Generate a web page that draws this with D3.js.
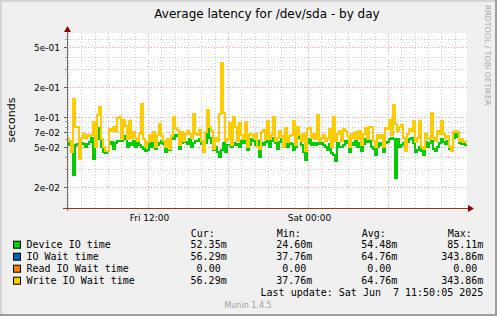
<!DOCTYPE html>
<html><head><meta charset="utf-8">
<script src="https://cdn.jsdelivr.net/npm/d3@7"></script>
<style>html,body{margin:0;padding:0;background:#f0f0f0;} svg{display:block}</style>
</head><body><svg id="c" width="497" height="316"></svg>
<script>
const chartTitle = "Average latency for /dev/sda - by day";
const yAxisTitle = "seconds";
const yLabelValues = [0.02, 0.05, 0.07, 0.1, 0.2, 0.5];
const yLabelText = ["2e-02", "5e-02", "7e-02", "1e-01", "2e-01", "5e-01"];
const xLabelText = ["Fri 12:00", "Sat 00:00"];
const seriesNames = ["Device IO time", "IO Wait time", "Read IO Wait time", "Write IO Wait time"];
const seriesColors = ["#00cc00", "#0066b3", "#ff8000", "#ffcc00"];
const statHeaders = ["Cur:", "Min:", "Avg:", "Max:"];
const statCur = ["52.35m", "56.29m", "0.00", "56.29m"];
const statMin = ["24.60m", "37.76m", "0.00", "37.76m"];
const statAvg = ["54.48m", "64.76m", "0.00", "64.76m"];
const statMax = ["85.11m", "343.86m", "0.00", "343.86m"];
const lastUpdate = "Last update: Sat Jun  7 11:50:05 2025";
const footer = "Munin 1.4.5";
const sideText = "RRDTOOL / TOBI OETIKER";
const timeStart = "2025-06-06T05:55:30Z";
const timeEnd = "2025-06-07T11:55:30Z";

const deviceIO = [
.055,.052,.052,.026,.052,.053,.055,.055,.053,.050,
.053,.056,.062,.038,.058,.078,.060,.050,.045,.044,
.046,.053,.056,.048,.055,.058,.058,.058,.060,.065,
.050,.055,.052,.058,.050,.060,.052,.050,.048,.046,
.047,.055,.050,.060,.048,.052,.055,.058,.054,.045,
.053,.047,.062,.060,.066,.064,.048,.055,.056,.056,
.053,.060,.050,.055,.058,.057,.060,.054,.052,.055,
.0851,.062,.055,.047,.050,.045,.040,.047,.055,.045,
.052,.052,.050,.055,.052,.053,.050,.057,.055,.060,
.047,.052,.060,.058,.052,.058,.040,.055,.052,.056,
.062,.050,.058,.062,.055,.048,.056,.060,.052,.055,
.050,.055,.054,.047,.050,.072,.062,.052,.045,.037,
.055,.060,.052,.055,.052,.055,.053,.055,.052,.050,
.047,.054,.044,.042,.036,.055,.050,.050,.052,.058,
.055,.045,.055,.052,.058,.050,.055,.046,.054,.060,
.056,.058,.050,.048,.042,.050,.055,.052,.045,.055,
.056,.060,.062,.060,.0246,.060,.050,.052,.055,.046,
.056,.060,.062,.055,.045,.047,.050,.046,.042,.056,
.050,.055,.058,.048,.046,.050,.055,.060,.056,.054,
.058,.048,.046,.062,.068,.063,.055,.054,.054,.05235];

const writeIOWait = [
.062,.058,.045,.150,.080,.080,.0378,.062,.068,.062,
.066,.064,.066,.088,.050,.105,.127,.060,.050,.046,
.046,.075,.072,.080,.072,.098,.100,.060,.093,.082,
.060,.090,.062,.070,.062,.058,.068,.136,.060,.050,
.056,.066,.058,.070,.050,.066,.085,.064,.058,.050,
.060,.048,.065,.100,.078,.074,.052,.070,.058,.068,
.072,.068,.062,.107,.068,.066,.074,.058,.045,.070,
.116,.080,.072,.048,.062,.058,.108,.3439,.110,.058,
.060,.087,.052,.100,.080,.058,.086,.066,.060,.089,
.050,.068,.066,.062,.068,.050,.048,.070,.074,.060,
.091,.060,.066,.100,.058,.062,.072,.064,.050,.078,
.056,.064,.066,.092,.052,.080,.066,.058,.068,.046,
.076,.078,.062,.068,.060,.104,.058,.062,.066,.058,
.062,.076,.050,.100,.058,.068,.072,.058,.075,.072,
.064,.050,.068,.062,.070,.060,.072,.052,.068,.078,
.060,.080,.080,.058,.050,.066,.062,.066,.050,.078,
.076,.094,.066,.132,.085,.072,.080,.083,.062,.046,
.068,.076,.072,.092,.056,.062,.092,.050,.048,.068,
.062,.060,.110,.062,.058,.072,.068,.090,.068,.062,
.064,.050,.046,.070,.072,.070,.058,.060,.056,.05629];

// IO Wait equals Write IO Wait (reads are all zero)
const ioWait = writeIOWait;
const readIOWait = [
0,0,0,0,0,0,0,0,0,0,0,0,0,0,0,0,0,0,0,0,0,0,0,0,0,0,0,0,0,0,0,0,0,0,0,0,0,0,0,0,
0,0,0,0,0,0,0,0,0,0,0,0,0,0,0,0,0,0,0,0,0,0,0,0,0,0,0,0,0,0,0,0,0,0,0,0,0,0,0,0,
0,0,0,0,0,0,0,0,0,0,0,0,0,0,0,0,0,0,0,0,0,0,0,0,0,0,0,0,0,0,0,0,0,0,0,0,0,0,0,0,
0,0,0,0,0,0,0,0,0,0,0,0,0,0,0,0,0,0,0,0,0,0,0,0,0,0,0,0,0,0,0,0,0,0,0,0,0,0,0,0,
0,0,0,0,0,0,0,0,0,0,0,0,0,0,0,0,0,0,0,0,0,0,0,0,0,0,0,0,0,0,0,0,0,0,0,0,0,0,0,0];

const seriesData = [deviceIO, ioWait, readIOWait, writeIOWait];

const W = 497, H = 316;
const L = 67, R = 467, T = 33, B = 208;
const svg = d3.select("#c");

svg.append("rect").attr("width", W).attr("height", H).attr("fill", "#f0f0f0");
// 3D border
svg.append("rect").attr("x", 0).attr("y", 0).attr("width", W).attr("height", 2).attr("fill", "#d4d4d4");
svg.append("rect").attr("x", 0).attr("y", 0).attr("width", 2).attr("height", H).attr("fill", "#d4d4d4");
svg.append("rect").attr("x", 0).attr("y", H - 2).attr("width", W).attr("height", 2).attr("fill", "#9e9e9e");
svg.append("rect").attr("x", W - 2).attr("y", 0).attr("width", 2).attr("height", H).attr("fill", "#9e9e9e");

// plot background
svg.append("rect").attr("x", L).attr("y", T).attr("width", R - L).attr("height", B - T).attr("fill", "#ffffff");

const t0 = new Date(timeStart), t1 = new Date(timeEnd);
const x = d3.scaleUtc().domain([t0, t1]).range([L, R]);
const y = d3.scaleLog().domain([0.05, 0.5]).range([147, 47]);
const vMin = y.invert(B), vMax = y.invert(T);

const grid = svg.append("g");
// vertical grid
x.ticks(d3.utcHour.every(1)).forEach(t => {
  const px = Math.round(x(t)) + 0.5;
  if (px <= L + 1 || px >= R) return;
  const major = t.getUTCHours() % 6 === 0;
  grid.append("line").attr("x1", px).attr("x2", px).attr("y1", T).attr("y2", B)
    .attr("stroke", major ? "#f0a0a0" : "#cfcfcf").attr("stroke-width", 1)
    .attr("stroke-dasharray", "1,2");
});
// horizontal grid
const majorSet = new Set(yLabelValues.map(v => v.toPrecision(3)));
for (let e = -3; e <= 1; e++) {
  for (let m = 1; m <= 9; m++) {
    const v = m * Math.pow(10, e);
    if (v < vMin || v > vMax) continue;
    const py = Math.round(y(v)) + 0.5;
    const major = majorSet.has(v.toPrecision(3));
    grid.append("line").attr("x1", L).attr("x2", R).attr("y1", py).attr("y2", py)
      .attr("stroke", major ? "#f0a0a0" : "#cfcfcf").attr("stroke-width", 1)
      .attr("stroke-dasharray", "1,2");
    grid.append("line").attr("x1", L - (major ? 3 : 2)).attr("x2", L).attr("y1", py).attr("y2", py)
      .attr("stroke", major ? "#606060" : "#a0a0a0");
  }
}

// y labels
yLabelValues.forEach((v, i) => {
  svg.append("text").attr("x", 60).attr("y", Math.round(y(v)) + 3.6)
    .attr("text-anchor", "end").attr("font-family", "DejaVu Sans").attr("font-size", 9)
    .attr("fill", "#000").text(yLabelText[i]);
});
// x labels
x.ticks(d3.utcHour.every(12)).forEach((t, i) => {
  svg.append("text").attr("x", Math.round(x(t)) + 1.5).attr("y", 220.8)
    .attr("text-anchor", "middle").attr("font-family", "DejaVu Sans").attr("font-size", 9)
    .attr("fill", "#000").text(xLabelText[i] || d3.utcFormat("%a %H:%M")(t));
});

// series
const stepMs = (t1 - t0) / deviceIO.length;
const clip = svg.append("clipPath").attr("id", "pc");
clip.append("rect").attr("x", L + 1).attr("y", T).attr("width", R - L - 1).attr("height", B - T);
const lines = svg.append("g").attr("clip-path", "url(#pc)");
seriesData.forEach((arr, k) => {
  const pts = arr.map((v, i) => ({ t: new Date(t0.getTime() + i * stepMs), v }));
  pts.push({ t: t1, v: arr[arr.length - 1] });
  const line = d3.line().defined(d => d.v > 0).curve(d3.curveStepAfter)
    .x(d => x(d.t)).y(d => y(d.v));
  lines.append("path").attr("d", line(pts)).attr("fill", "none")
    .attr("stroke", seriesColors[k]).attr("stroke-width", 2)
    .attr("shape-rendering", "crispEdges");
});

// axes
svg.append("line").attr("x1", L + 0.5).attr("x2", L + 0.5).attr("y1", 29).attr("y2", B + 3)
  .attr("stroke", "#707070");
svg.append("line").attr("x1", L - 4).attr("x2", R + 3).attr("y1", B + 0.5).attr("y2", B + 0.5)
  .attr("stroke", "#8b3a10");
svg.append("path").attr("d", `M${R + 1},${B - 3} L${R + 7},${B + 0.5} L${R + 1},${B + 4} Z`).attr("fill", "#8b0000");
svg.append("path").attr("d", `M${L - 3},${T - 1} L${L + 0.5},${T - 7} L${L + 4},${T - 1} Z`).attr("fill", "#8b0000");

// title
svg.append("text").attr("x", 267).attr("y", 17.5).attr("text-anchor", "middle")
  .attr("font-family", "DejaVu Sans").attr("font-size", 12).attr("fill", "#000").text(chartTitle);
svg.append("text").attr("transform", "translate(15,120) rotate(-90)").attr("text-anchor", "middle")
  .attr("font-family", "DejaVu Sans").attr("font-size", 11).attr("fill", "#000").text(yAxisTitle);
svg.append("text").attr("transform", "translate(485,5) rotate(90)").attr("text-anchor", "start")
  .attr("font-family", "DejaVu Sans").attr("font-size", 7.8).attr("fill", "#a8a8a8").text(sideText);

// legend
const mono = "DejaVu Sans Mono";
const colLeft = [190.7, 276.7, 361.7, 447.7];
const colRight = [226.7, 312.3, 397.3, 483.3];
const stats = [statCur, statMin, statAvg, statMax];
statHeaders.forEach((h, c) => {
  svg.append("text").attr("x", colLeft[c]).attr("y", 236.5).attr("font-family", mono)
    .attr("font-size", 10).attr("fill", "#000").text(h);
});
seriesNames.forEach((name, r) => {
  const cy = 244.7 + r * 12;
  svg.append("rect").attr("x", 13.5).attr("y", cy - 3.5).attr("width", 7).attr("height", 7)
    .attr("fill", seriesColors[r]).attr("stroke", "#000").attr("stroke-width", 1);
  svg.append("text").attr("x", 26.5).attr("y", cy + 3.6).attr("font-family", mono)
    .attr("font-size", 10).attr("fill", "#000").text(name);
  stats.forEach((col, c) => {
    const s = col[r];
    const hasUnit = /[a-zA-Z]$/.test(s);
    svg.append("text").attr("x", colRight[c] - (hasUnit ? 0 : 6.0)).attr("y", cy + 3.6)
      .attr("text-anchor", "end").attr("font-family", mono).attr("font-size", 10)
      .attr("fill", "#000").text(s);
  });
});
svg.append("text").attr("x", 483.3).attr("y", 295.5).attr("text-anchor", "end")
  .attr("font-family", mono).attr("font-size", 10).attr("fill", "#000")
  .style("white-space", "pre").text(lastUpdate);
svg.append("text").attr("x", 248).attr("y", 308.3).attr("text-anchor", "middle")
  .attr("font-family", "DejaVu Sans").attr("font-size", 8).attr("fill", "#a0a0a0").text(footer);
</script>
</body></html>
